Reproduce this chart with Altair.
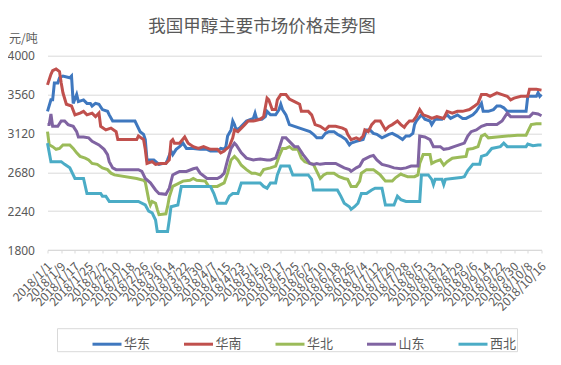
import altair as alt
import pandas as pd

regions = ["华东", "华南", "华北", "山东", "西北"]
colors = ["#3F78BF", "#C0504D", "#9BBB59", "#8064A2", "#4BACC6"]
y_ticks = [1800, 2240, 2680, 3120, 3560, 4000]
x_ticks = list(range(0, 289, 8))  # days since 2018/1/1

# (day since 2018-01-01, price in 元/吨)
east = [(0,3370),(2,3500),(3,3500),(4,3690),(6,3690),(7,3750),(9,3770),(13,3750),(14,3770),(15,3460),(17,3560),(18,3480),(21,3500),(23,3460),(25,3460),(26,3430),(28,3460),(30,3450),(32,3390),(35,3370),(36,3330),(38,3260),(51,3260),(52,3220),(54,3140),(56,3110),(57,3050),(58,2820),(62,2820),(65,2770),(67,2780),(69,2780),(70,2820),(72,2920),(73,2880),(75,2940),(77,2970),(79,3010),(81,2950),(85,2950),(89,2940),(93,2940),(95,2920),(99,2920),(101,2950),(103,2940),(104,2970),(105,3090),(107,3160),(108,3260),(109,3220),(110,3160),(112,3180),(114,3220),(116,3260),(120,3290),(121,3350),(122,3280),(125,3280),(127,3310),(128,3370),(130,3330),(133,3330),(135,3390),(136,3450),(137,3390),(139,3330),(141,3220),(144,3200),(147,3180),(150,3160),(153,3140),(155,3110),(157,3070),(160,3070),(162,3120),(164,3140),(167,3140),(169,3110),(171,3090),(174,3050),(176,2990),(177,3010),(180,3030),(184,3050),(186,3160),(188,3160),(190,3120),(192,3110),(195,3070),(197,3090),(199,3110),(201,3120),(204,3090),(207,3050),(209,3090),(211,3090),(213,3120),(214,3220),(215,3260),(218,3330),(220,3280),(223,3260),(224,3220),(226,3280),(230,3280),(233,3330),(235,3290),(239,3330),(242,3290),(244,3290),(246,3310),(248,3330),(250,3370),(252,3430),(253,3460),(254,3370),(257,3370),(260,3390),(262,3430),(264,3430),(266,3410),(268,3370),(274,3370),(279,3370),(280,3540),(285,3540),(286,3580),(287,3540),(288,3560)]
south = [(0,3670),(2,3790),(3,3830),(5,3850),(7,3820),(8,3690),(9,3580),(11,3450),(14,3430),(16,3330),(19,3350),(21,3370),(23,3330),(26,3350),(28,3310),(30,3350),(31,3200),(34,3160),(37,3180),(40,3140),(41,3050),(52,3050),(53,3090),(56,3050),(57,2940),(58,2780),(61,2800),(63,2770),(66,2780),(69,2780),(71,2820),(72,3030),(73,3050),(74,3010),(77,3010),(80,3080),(82,3010),(85,2970),(88,2950),(91,2970),(95,2940),(99,2940),(101,2900),(103,2920),(104,2940),(106,2970),(108,3070),(109,3160),(111,3140),(113,3180),(115,3220),(117,3260),(120,3260),(124,3280),(126,3310),(128,3520),(129,3500),(131,3390),(133,3390),(134,3500),(136,3560),(139,3560),(141,3510),(144,3480),(147,3450),(148,3370),(152,3370),(154,3330),(156,3220),(159,3200),(162,3160),(164,3200),(168,3200),(172,3180),(174,3160),(175,3110),(177,3050),(180,3070),(182,3050),(184,3090),(185,3160),(187,3140),(189,3220),(191,3260),(194,3260),(197,3160),(199,3200),(201,3220),(204,3260),(206,3220),(208,3190),(209,3220),(211,3260),(213,3260),(215,3310),(217,3390),(219,3330),(222,3310),(224,3290),(227,3310),(231,3290),(233,3370),(236,3350),(239,3370),(242,3370),(246,3390),(249,3430),(251,3460),(253,3560),(256,3560),(258,3540),(262,3580),(265,3560),(268,3540),(270,3500),(272,3520),(276,3540),(280,3540),(281,3620),(285,3620),(288,3610)]
north = [(0,3140),(1,2990),(3,2970),(5,2940),(7,2950),(9,2990),(13,2990),(15,2950),(17,2900),(19,2860),(22,2840),(24,2820),(26,2780),(29,2770),(32,2730),(35,2710),(37,2670),(39,2650),(52,2610),(56,2590),(57,2570),(59,2370),(60,2310),(61,2350),(63,2330),(64,2260),(65,2200),(69,2210),(70,2290),(71,2400),(73,2520),(79,2580),(83,2590),(85,2610),(87,2590),(92,2580),(94,2520),(99,2520),(101,2540),(103,2560),(105,2670),(107,2820),(109,2860),(111,2820),(113,2760),(116,2710),(119,2670),(121,2670),(124,2650),(126,2710),(130,2730),(133,2750),(135,2860),(137,2950),(139,2950),(141,2970),(143,2940),(146,2940),(148,2840),(150,2800),(153,2780),(155,2770),(157,2690),(159,2610),(161,2650),(163,2670),(167,2670),(170,2630),(173,2610),(175,2600),(177,2520),(180,2520),(182,2580),(183,2670),(186,2710),(190,2710),(192,2680),(194,2650),(197,2580),(201,2580),(203,2620),(206,2660),(207,2650),(210,2630),(214,2630),(216,2650),(217,2780),(219,2880),(223,2880),(224,2780),(226,2800),(229,2820),(231,2760),(233,2800),(236,2840),(240,2850),(244,2860),(245,2940),(248,2950),(251,2970),(253,3090),(255,3110),(257,3070),(262,3080),(268,3090),(274,3100),(279,3100),(280,3140),(282,3220),(285,3230),(288,3230)]
shandong = [(0,3220),(1,3220),(2,3340),(3,3200),(6,3200),(8,3260),(10,3260),(12,3220),(15,3200),(17,3140),(18,3080),(21,3080),(24,3070),(26,3030),(30,2990),(33,2940),(35,2880),(36,2800),(38,2730),(40,2710),(53,2710),(55,2690),(57,2610),(60,2560),(63,2480),(65,2440),(69,2430),(71,2500),(73,2650),(75,2670),(77,2690),(81,2690),(85,2720),(87,2730),(89,2670),(93,2610),(99,2610),(101,2630),(103,2670),(105,2820),(107,2950),(109,3010),(110,2990),(113,2900),(116,2840),(120,2820),(124,2830),(128,2820),(130,2820),(133,2840),(135,2950),(137,3070),(139,3070),(140,3050),(142,3010),(144,2970),(146,2970),(149,2880),(153,2780),(155,2770),(157,2780),(159,2770),(162,2780),(165,2780),(168,2780),(171,2750),(173,2730),(176,2710),(177,2690),(180,2730),(182,2750),(184,2820),(188,2860),(190,2870),(192,2820),(195,2770),(199,2750),(202,2730),(206,2720),(209,2730),(212,2750),(216,2750),(217,3090),(220,3080),(223,3050),(225,2970),(229,2970),(231,2940),(234,2950),(237,2970),(240,2990),(243,3010),(245,3090),(247,3140),(250,3160),(253,3200),(256,3220),(259,3220),(262,3220),(265,3260),(268,3350),(270,3310),(274,3310),(278,3310),(281,3310),(283,3350),(286,3340),(288,3320)]
northwest = [(0,3010),(2,2800),(8,2800),(10,2770),(13,2730),(16,2610),(21,2610),(23,2440),(31,2440),(32,2410),(34,2410),(36,2350),(53,2350),(57,2310),(59,2240),(61,2220),(63,2140),(64,2010),(70,2010),(71,2140),(72,2290),(76,2310),(78,2520),(95,2520),(97,2440),(99,2330),(104,2330),(106,2410),(108,2440),(111,2440),(113,2560),(124,2560),(126,2520),(128,2500),(130,2560),(133,2560),(134,2650),(136,2750),(141,2750),(143,2650),(152,2650),(154,2600),(155,2480),(169,2480),(171,2410),(173,2330),(176,2290),(177,2260),(179,2290),(181,2330),(183,2440),(186,2440),(189,2480),(191,2500),(195,2500),(197,2310),(202,2310),(204,2410),(206,2370),(209,2350),(217,2350),(218,2650),(222,2650),(224,2600),(225,2540),(226,2600),(230,2600),(231,2540),(232,2600),(236,2610),(241,2620),(243,2630),(245,2700),(248,2770),(252,2770),(253,2860),(256,2880),(259,2950),(264,2970),(266,3010),(268,2970),(273,2970),(279,2970),(280,3000),(283,2980),(286,2990),(288,2990)]

rows = []
for name, series in zip(regions, [east, south, north, shandong, northwest]):
    for d, v in series:
        rows.append({"region": name, "day": d, "price": v})
df = pd.DataFrame(rows)

FONT = "Noto Sans CJK SC"
GREY = "#595959"
LINE = "#d9d9d9"

chart = alt.Chart(df).mark_line(strokeWidth=3, interpolate="linear").encode(
    x=alt.X("day:Q",
            scale=alt.Scale(domain=[0, 288], nice=False, zero=False),
            axis=alt.Axis(values=x_ticks,
                          labelExpr="timeFormat(datetime(2018, 0, 1 + datum.value), '%Y/%-m/%-d')",
                          labelAngle=-45, labelAlign="right", labelBaseline="middle",
                          labelFontSize=12, labelColor=GREY, labelPadding=11, labelOffset=2,
                          labelOverlap=False, labelFlush=False, labelBound=False,
                          tickSize=3, tickColor=LINE, domainColor=LINE, grid=False, title=None)),
    y=alt.Y("price:Q",
            scale=alt.Scale(domain=[1800, 4000], nice=False, zero=False),
            axis=alt.Axis(values=y_ticks, format="d", grid=True, gridColor=LINE, domain=False,
                          ticks=False, tickSize=0, labelPadding=13, labelFontSize=12,
                          labelColor=GREY, labelFont="Noto Sans",
                          title="元/吨", titleAngle=0, titleAlign="left", titleBaseline="middle",
                          titleX=-39, titleY=-17, titleFontSize=12, titleFontWeight="normal",
                          titleColor=GREY)),
    color=alt.Color("region:N",
                    scale=alt.Scale(domain=regions, range=colors),
                    legend=alt.Legend(orient="none", legendX=9.5, legendY=272.5,
                                      direction="horizontal",
                                      title="\u3000", titleOrient="left", titleFontSize=13,
                                      titlePadding=34,
                                      symbolType="stroke", symbolSize=841, symbolStrokeWidth=3,
                                      labelFontSize=13, labelColor=GREY, labelOffset=1,
                                      labelExpr="datum.label == '西北' ? datum.label + '\u3000\u3000\u00a0\u00a0\u00a0' : datum.label",
                                      columnPadding=26.5, padding=0, strokeColor=LINE)),
).properties(
    width=494, height=194.3,
    title=alt.TitleParams("我国甲醇主要市场价格走势图", fontSize=17.5, color=GREY,
                          fontWeight="normal", anchor="middle", dx=-32.5, dy=7, offset=4),
    autosize=alt.AutoSizeParams(type="none"),
    padding={"left": 39.5, "top": 47.7, "right": 10, "bottom": 114},
).configure(font=FONT, background="white").configure_view(stroke=None)

chart.save("out.html", embed_options={"renderer": "svg", "actions": False})
